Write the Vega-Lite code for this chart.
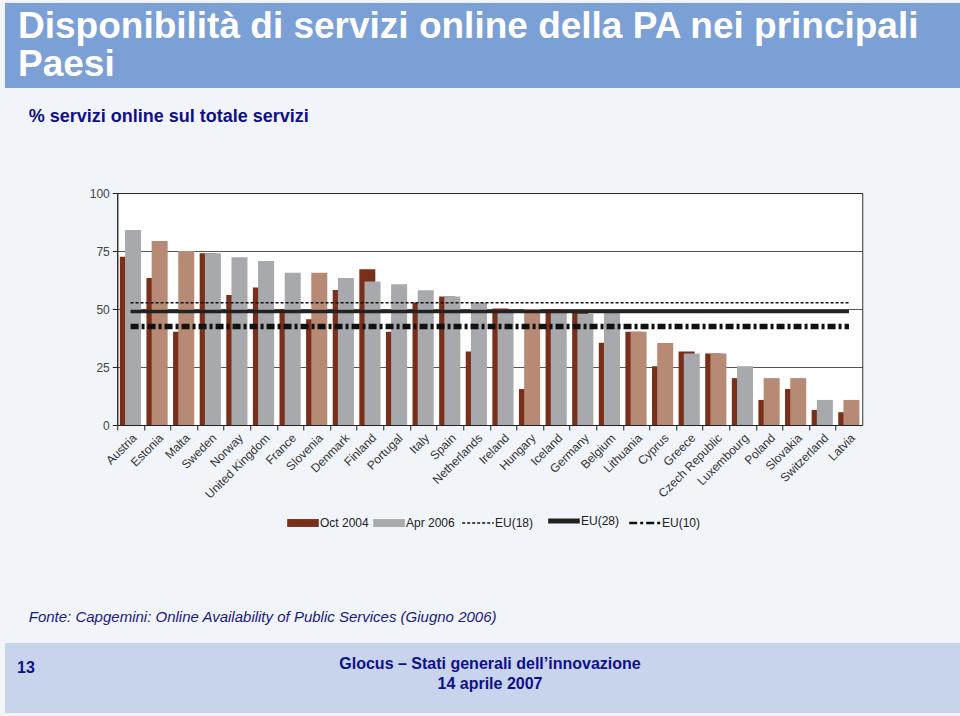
{
  "$schema": "https://vega.github.io/schema/vega-lite/v6.json",
  "background": "#f1f4f8",
  "padding": {"left": 5, "top": 3, "right": -15, "bottom": 4},
  "spacing": 18,
  "center": true,
  "title": {"text": "13", "orient": "bottom", "anchor": "start", "offset": -53, "dx": 12, "font": "Liberation Sans", "fontSize": 16, "fontWeight": "bold", "color": "#10108a"},
  "config": {
    "font": "Liberation Sans",
    "view": {"stroke": null},
    "title": {"font": "Liberation Sans"}
  },
  "vconcat": [
    {
      "width": 970,
      "height": 85,
      "view": {"fill": "#7aa0d5", "stroke": null},
      "title": {"text": ["Disponibilità di servizi online della PA nei principali", "Paesi"], "orient": "top", "anchor": "start", "frame": "group", "offset": -110, "dx": 13, "font": "Liberation Sans", "fontSize": 37, "fontWeight": "bold", "color": "white", "lineHeight": 38, "baseline": "alphabetic"},
      "data": {"values": []},
      "mark": "text"
    },
    {
      "width": 745,
      "height": 232,
      "view": {"fill": "white", "stroke": "#333", "strokeWidth": 1},
      "data": {"values": [
        {"paese": "Austria", "ott2004": 72.5, "apr2006": 84, "gruppo": "UE15+"},
        {"paese": "Estonia", "ott2004": 63.4, "apr2006": 79.3, "gruppo": "UE10"},
        {"paese": "Malta", "ott2004": 40.2, "apr2006": 75, "gruppo": "UE10"},
        {"paese": "Sweden", "ott2004": 74, "apr2006": 74, "gruppo": "UE15+"},
        {"paese": "Norway", "ott2004": 56, "apr2006": 72.3, "gruppo": "UE15+"},
        {"paese": "United Kingdom", "ott2004": 59.3, "apr2006": 70.7, "gruppo": "UE15+"},
        {"paese": "France", "ott2004": 50, "apr2006": 65.6, "gruppo": "UE15+"},
        {"paese": "Slovenia", "ott2004": 45.6, "apr2006": 65.6, "gruppo": "UE10"},
        {"paese": "Denmark", "ott2004": 58.2, "apr2006": 63.4, "gruppo": "UE15+"},
        {"paese": "Finland", "ott2004": 67.1, "apr2006": 61.8, "gruppo": "UE15+"},
        {"paese": "Portugal", "ott2004": 40.2, "apr2006": 60.7, "gruppo": "UE15+"},
        {"paese": "Italy", "ott2004": 52.8, "apr2006": 58.1, "gruppo": "UE15+"},
        {"paese": "Spain", "ott2004": 55.4, "apr2006": 55.4, "gruppo": "UE15+"},
        {"paese": "Netherlands", "ott2004": 31.7, "apr2006": 52.8, "gruppo": "UE15+"},
        {"paese": "Ireland", "ott2004": 50.2, "apr2006": 49, "gruppo": "UE15+"},
        {"paese": "Hungary", "ott2004": 15.5, "apr2006": 50, "gruppo": "UE10"},
        {"paese": "Iceland", "ott2004": 50, "apr2006": 49, "gruppo": "UE15+"},
        {"paese": "Germany", "ott2004": 48.5, "apr2006": 48, "gruppo": "UE15+"},
        {"paese": "Belgium", "ott2004": 35.4, "apr2006": 48.5, "gruppo": "UE15+"},
        {"paese": "Lithuania", "ott2004": 40.2, "apr2006": 40.2, "gruppo": "UE10"},
        {"paese": "Cyprus", "ott2004": 25.3, "apr2006": 35.3, "gruppo": "UE10"},
        {"paese": "Greece", "ott2004": 31.7, "apr2006": 30.8, "gruppo": "UE15+"},
        {"paese": "Czech Republic", "ott2004": 30.8, "apr2006": 30.8, "gruppo": "UE10"},
        {"paese": "Luxembourg", "ott2004": 20.2, "apr2006": 25.3, "gruppo": "UE15+"},
        {"paese": "Poland", "ott2004": 10.8, "apr2006": 20.2, "gruppo": "UE10"},
        {"paese": "Slovakia", "ott2004": 15.5, "apr2006": 20.2, "gruppo": "UE10"},
        {"paese": "Switzerland", "ott2004": 6.5, "apr2006": 10.8, "gruppo": "UE15+"},
        {"paese": "Latvia", "ott2004": 5.5, "apr2006": 10.8, "gruppo": "UE10"}
      ]},
      "layer": [
        {
          "mark": {"type": "bar", "width": 16, "xOffset": -2.7},
          "encoding": {
            "x": {"field": "paese", "type": "nominal", "sort": null,
              "scale": {"domain": ["Austria","Estonia","Malta","Sweden","Norway","United Kingdom","France","Slovenia","Denmark","Finland","Portugal","Italy","Spain","Netherlands","Ireland","Hungary","Iceland","Germany","Belgium","Lithuania","Cyprus","Greece","Czech Republic","Luxembourg","Poland","Slovakia","Switzerland","Latvia"], "paddingInner": 0, "paddingOuter": 0},
              "axis": {"title": "Fonte: Capgemini: Online Availability of Public Services (Giugno 2006)", "titleX": -89, "titleY": 196, "titleAlign": "left", "titleAnchor": "start", "titleBaseline": "alphabetic", "titleFont": "Liberation Sans", "titleFontSize": 15, "titleFontStyle": "italic", "titleFontWeight": "normal", "titleColor": "#1a1a80",
                "labelAngle": -45, "labelFont": "Liberation Sans", "labelFontSize": 12, "labelColor": "#333", "tickOffset": -13.3, "labelOffset": 13.3, "tickSize": 5, "tickColor": "#222", "domainColor": "#222", "labelPadding": 2}},
            "y": {"field": "ott2004", "type": "quantitative",
              "scale": {"domain": [0, 100]},
              "axis": {"title": "% servizi online sul totale servizi", "titleAngle": 0, "titleAlign": "left", "titleBaseline": "alphabetic", "titleX": -89, "titleY": -72, "titleFont": "Liberation Sans", "titleFontSize": 18, "titleFontWeight": "bold", "titleColor": "#10108a", "values": [0, 25, 50, 75, 100], "grid": true, "gridColor": "#2a2a2a", "gridWidth": 0.8, "domainColor": "#222", "tickColor": "#222", "tickSize": 5, "labelFont": "Liberation Sans", "labelFontSize": 12, "labelColor": "#444", "labelPadding": 3}},
            "color": {"datum": "Oct 2004",
              "scale": {"domain": ["Oct 2004", "Apr 2006", "EU(18)", "EU(28)", "EU(10)"], "range": ["#7a2f1b", "#a7a9ad", "#111111", "#222222", "#111111"]},
              "legend": {"title": null, "orient": "none", "legendX": 292, "legendY": 512, "direction": "horizontal", "symbolSize": 1000, "labelFont": "Liberation Sans", "labelFontSize": 12, "labelColor": "#222", "columnPadding": 4, "labelOffset": 11,
                "encode": {"symbols": {"update": {
                  "shape": {"signal": "datum.value === 'Oct 2004' || datum.value === 'Apr 2006' ? 'M-1,-0.25H1V0.25H-1Z' : 'stroke'"},
                  "fill": {"signal": "datum.value === 'Oct 2004' ? '#7a2f1b' : datum.value === 'Apr 2006' ? '#a7a9ad' : 'transparent'"},
                  "stroke": {"signal": "datum.value === 'Oct 2004' || datum.value === 'Apr 2006' ? 'transparent' : '#111111'"},
                  "strokeWidth": {"signal": "datum.value === 'EU(28)' ? 5 : datum.value === 'EU(18)' ? 1.5 : datum.value === 'EU(10)' ? 2.5 : 0"},
                  "strokeDash": {"signal": "datum.value === 'EU(18)' ? [3, 2] : datum.value === 'EU(10)' ? [8, 3, 3, 3] : [1, 0]"},
                  "opacity": {"value": 1}
                }}}}}
          }
        },
        {
          "mark": {"type": "bar", "width": 16, "xOffset": 2.5},
          "encoding": {
            "x": {"field": "paese", "type": "nominal", "sort": null},
            "y": {"field": "apr2006", "type": "quantitative"},
            "color": {"condition": {"test": "datum.gruppo === 'UE10'", "value": "#b68a74"}, "datum": "Apr 2006",
              "legend": {"title": null, "orient": "none", "legendX": 292, "legendY": 512, "direction": "horizontal", "symbolSize": 1000, "labelFont": "Liberation Sans", "labelFontSize": 12, "labelColor": "#222", "columnPadding": 4, "labelOffset": 11}}
          }
        },
        {
          "data": {"values": [
            {"linea": "EU(18)", "valore": 52.7},
            {"linea": "EU(28)", "valore": 48.9},
            {"linea": "EU(10)", "valore": 42.5}
          ]},
          "mark": {"type": "rule"},
          "encoding": {
            "x": {"datum": "Austria", "type": "nominal"},
            "x2": {"datum": "Latvia"},
            "y": {"field": "valore", "type": "quantitative"},
            "color": {"field": "linea", "type": "nominal",
              "legend": {"title": null, "orient": "none", "legendX": 292, "legendY": 512, "direction": "horizontal", "symbolSize": 1000, "labelFont": "Liberation Sans", "labelFontSize": 12, "labelColor": "#222", "columnPadding": 4, "labelOffset": 11}},
            "strokeDash": {"field": "linea", "type": "nominal", "scale": {"domain": ["EU(18)", "EU(28)", "EU(10)"], "range": [[3, 2], [1, 0], [8, 3, 3, 3]]}, "legend": null},
            "strokeWidth": {"field": "linea", "type": "nominal", "scale": {"domain": ["EU(18)", "EU(28)", "EU(10)"], "range": [1.5, 5.5, 2.5]}, "legend": null}
          }
        }
      ]
    },
    {
      "width": 970,
      "height": 70,
      "view": {"fill": "#c7d4ec", "stroke": null},
      "data": {"values": [{"testo": "Glocus – Stati generali dell’innovazione\n14 aprile 2007"}]},
      "mark": {"type": "text", "lineBreak": "\n", "font": "Liberation Sans", "fontSize": 16, "fontWeight": "bold", "color": "#10108a", "lineHeight": 20, "baseline": "middle", "dy": -14},
      "encoding": {"text": {"field": "testo", "type": "nominal"}}
    }
  ]
}
